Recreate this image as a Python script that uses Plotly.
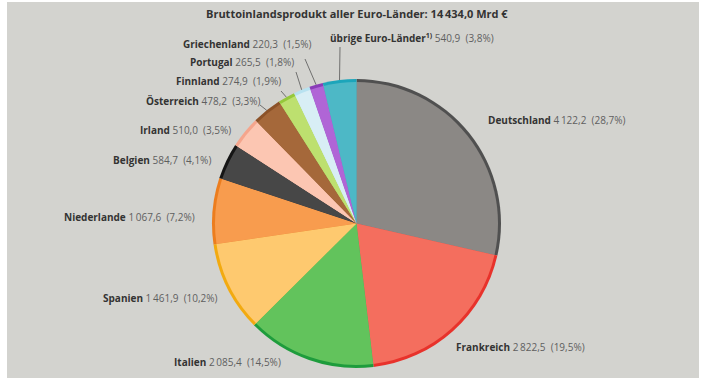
import math
import plotly.graph_objects as go

# GDP of the euro-area countries, bn EUR
countries = ["Deutschland", "Frankreich", "Italien", "Spanien", "Niederlande", "Belgien",
             "Irland", "Österreich", "Finnland", "Portugal", "Griechenland",
             "übrige Euro-Länder<sup>1)</sup>"]
gdp = [4122.2, 2822.5, 2085.4, 1461.9, 1067.6, 584.7, 510.0, 478.2, 274.9, 265.5, 220.3, 540.9]
gdp_text = ["4\u2009122,2", "2\u2009822,5", "2\u2009085,4", "1\u2009461,9", "1\u2009067,6", "584,7",
            "510,0", "478,2", "274,9", "265,5", "220,3", "540,9"]
share_text = ["28,7%", "19,5%", "14,5%", "10,2%", "7,2%", "4,1%", "3,5%", "3,3%", "1,9%",
              "1,8%", "1,5%", "3,8%"]
title_text = "Bruttoinlandsprodukt aller Euro-Länder: 14\u2009434,0 Mrd €"

fill_colors = ["#8b8885", "#f46e5e", "#62c35c", "#fec96f", "#f89c4e", "#474747",
               "#fcc6b2", "#a5683a", "#bde06f", "#d8eef5", "#b065d6", "#4db8c6"]
rim_colors = ["#505050", "#e8322b", "#1e9c3c", "#f2aa10", "#ec7d1e", "#151515",
              "#f5a58c", "#8c5228", "#95c83a", "#b8e2f0", "#8a3cb8", "#1ca5ba"]

W, H = 702, 378


def px(x):
    return x / W


def py(y):
    return 1 - y / H


# pie geometry in pixels
cx, cy, r = 356.5, 223.5, 144.5
rim = 3.0

fig = go.Figure()
# outer pie gives the darker rim, inner pie the lighter fill
for rad, cols in ((r, rim_colors), (r - rim, fill_colors)):
    fig.add_trace(go.Pie(
        labels=countries, values=gdp, sort=False, direction="clockwise", rotation=0,
        marker=dict(colors=cols, line=dict(width=0)),
        textinfo="none", hoverinfo="label+value", showlegend=False,
        domain=dict(x=[px(cx - rad), px(cx + rad)], y=[py(cy + rad), py(cy - rad)]),
    ))

# label placement: (x, y, anchor) in pixels
label_pos = [
    (486, 120, "left"), (454, 347, "left"), (283, 362, "right"), (220, 298, "right"),
    (197, 217, "right"), (213, 160, "right"), (233, 130, "right"), (262, 101, "right"),
    (283, 81, "right"), (296, 62, "right"), (313, 44, "right"), (328, 38, "left"),
]

annotations = [dict(text="<b>" + title_text + "</b>", x=px(357), y=py(14), xref="paper",
                    yref="paper", showarrow=False, xanchor="center", yanchor="middle",
                    font=dict(size=11, color="#333333"))]
for name, val, pct, (lx, ly, anc) in zip(countries, gdp_text, share_text, label_pos):
    annotations.append(dict(
        text=f"<b>{name}</b> <span style='color:#5f5f5f'>{val}\u00a0 ({pct})</span>",
        x=px(lx), y=py(ly), xref="paper", yref="paper", showarrow=False,
        xanchor=anc, yanchor="middle", font=dict(size=10, color="#333333"),
    ))

# leader lines from label to the outer edge of the small slices
leader_start = {7: (260, 105), 8: (281, 91), 9: (296, 72), 10: (305, 59), 11: (340, 47)}
total = sum(gdp)
shapes = [dict(type="rect", xref="paper", yref="paper", x0=px(7), x1=px(699), y0=0, y1=py(2),
               fillcolor="#d3d3cf", line=dict(width=0), layer="below")]
cum = 0.0
for i, v in enumerate(gdp):
    mid = (cum + v / 2) / total * 2 * math.pi
    cum += v
    if i in leader_start:
        ex = cx + r * math.sin(mid)
        ey = cy - r * math.cos(mid)
        sx, sy = leader_start[i]
        shapes.append(dict(type="line", xref="paper", yref="paper",
                           x0=px(sx), y0=py(sy), x1=px(ex), y1=py(ey),
                           line=dict(color="#555555", width=0.8)))

fig.update_layout(
    width=W, height=H, margin=dict(l=0, r=0, t=0, b=0),
    paper_bgcolor="white", plot_bgcolor="white",
    font=dict(family="Open Sans"),
    annotations=annotations, shapes=shapes,
)

fig.write_html("out.html")
